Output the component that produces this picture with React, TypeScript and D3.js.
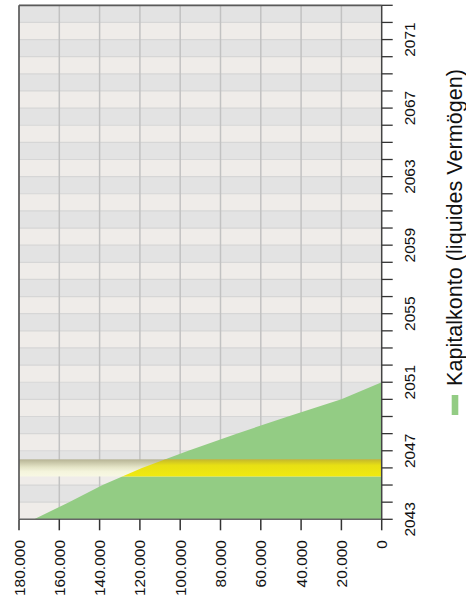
import React from "react";
import * as d3 from "d3";

const years = [2043, 2044, 2045, 2046, 2047, 2048, 2049, 2050, 2051];
const kapital = [172500, 155200, 138500, 119000, 96000, 72000, 46500, 20000, 0];
const valueTicks = [0, 20000, 40000, 60000, 80000, 100000, 120000, 140000, 160000, 180000];
const yearLabelTicks = [2043, 2047, 2051, 2055, 2059, 2063, 2067, 2071];
const highlightYear = 2046;
const legendLabel = "Kapitalkonto (liquides Vermögen)";

const W = 466, H = 609;
const L = 19, R = 381.7, T = 5.3, B = 519.3;

export default function App() {
  const x = d3.scaleLinear().domain([0, 180000]).range([R, L]);
  const y = d3.scaleLinear().domain([2043, 2073]).range([B, T]);
  const fmt = d3.formatLocale({ decimal: ",", thousands: ".", grouping: [3], currency: ["", "€"] }).format(",d");

  const allYears = d3.range(2043, 2074);
  const bands = d3.range(2043, 2073);
  const data = years.map((yr, i) => ({ yr, v: kapital[i] }));
  const area = d3.area<{ yr: number; v: number }>()
    .y((d) => y(d.yr))
    .x0(() => x(0))
    .x1((d) => x(d.v));
  const areaPath = area(data) || "";

  const hy0 = y(highlightYear + 0.5);
  const hy1 = y(highlightYear - 0.5);

  return (
    <svg width={W} height={H} style={{ position: "absolute", left: 0, top: 0 }} fontFamily="Liberation Sans, Arial, sans-serif">
      <defs>
        <linearGradient id="gBand" x1="0" y1="0" x2="0" y2="1">
          <stop offset="0" stopColor="#b6b394" />
          <stop offset="0.45" stopColor="#e4e4c6" />
          <stop offset="0.7" stopColor="#f4f4dc" />
          <stop offset="1" stopColor="#f8f8e4" />
        </linearGradient>
        <linearGradient id="gYellow" x1="0" y1="0" x2="0" y2="1">
          <stop offset="0" stopColor="#c4b82c" />
          <stop offset="0.35" stopColor="#e8e014" />
          <stop offset="1" stopColor="#f0ea10" />
        </linearGradient>
        <clipPath id="areaClip">
          <path d={areaPath} />
        </clipPath>
      </defs>
      {bands.map((b) => (
        <rect key={b} x={L} y={y(b + 1)} width={R - L} height={y(b) - y(b + 1)}
          fill={(b - 2043) % 2 === 0 ? "#efece9" : "#e3e3e3"} />
      ))}
      {allYears.map((yr) => (
        <line key={"h" + yr} x1={L} x2={R} y1={y(yr)} y2={y(yr)} stroke="#d6d6d6" strokeWidth={1.2} />
      ))}
      {valueTicks.filter((v) => v > 0 && v < 180000).map((v) => (
        <line key={"v" + v} x1={x(v)} x2={x(v)} y1={T} y2={B} stroke="#c2c2c2" strokeWidth={1.5} />
      ))}
      <path d={areaPath} fill="#93cc84" />
      <rect x={L} y={hy0} width={R - L} height={hy1 - hy0} fill="url(#gBand)" />
      <rect x={L} y={hy0} width={R - L} height={hy1 - hy0} fill="url(#gYellow)" clipPath="url(#areaClip)" />
      {/* frame */}
      <line x1={L} x2={L} y1={T} y2={B} stroke="#5a5a5a" strokeWidth={1.7} />
      <line x1={L} x2={R} y1={T} y2={T} stroke="#5a5a5a" strokeWidth={1.7} />
      <line x1={L} x2={R} y1={B} y2={B} stroke="#666" strokeWidth={1.5} />
      <line x1={R} x2={R} y1={T} y2={B} stroke="#444" strokeWidth={1.5} />
      {/* right axis ticks */}
      {allYears.map((yr) => (
        <line key={"t" + yr} x1={R} x2={R + 11} y1={y(yr)} y2={y(yr)} stroke="#333" strokeWidth={1.3} />
      ))}
      {yearLabelTicks.map((yr) => (
        <text key={"yl" + yr} transform={`translate(415,${y(yr)}) rotate(-90)`} textAnchor="middle" fontSize={15.5} fill="#111">
          {yr}
        </text>
      ))}
      {/* bottom axis ticks */}
      {valueTicks.map((v) => (
        <line key={"bt" + v} x1={x(v)} x2={x(v)} y1={B} y2={B + 11} stroke="#333" strokeWidth={1.5} />
      ))}
      {valueTicks.map((v) => (
        <text key={"bl" + v} transform={`translate(${x(v)},540) rotate(-90)`} textAnchor="end" dy="0.36em" fontSize={15.5} fill="#111">
          {fmt(v)}
        </text>
      ))}
      {/* legend */}
      <rect x={451.7} y={395} width={6.6} height={20} fill="#93cc84" />
      <text transform="translate(461.7,386) rotate(-90)" fontSize={21.6} fill="#111">{legendLabel}</text>
    </svg>
  );
}
